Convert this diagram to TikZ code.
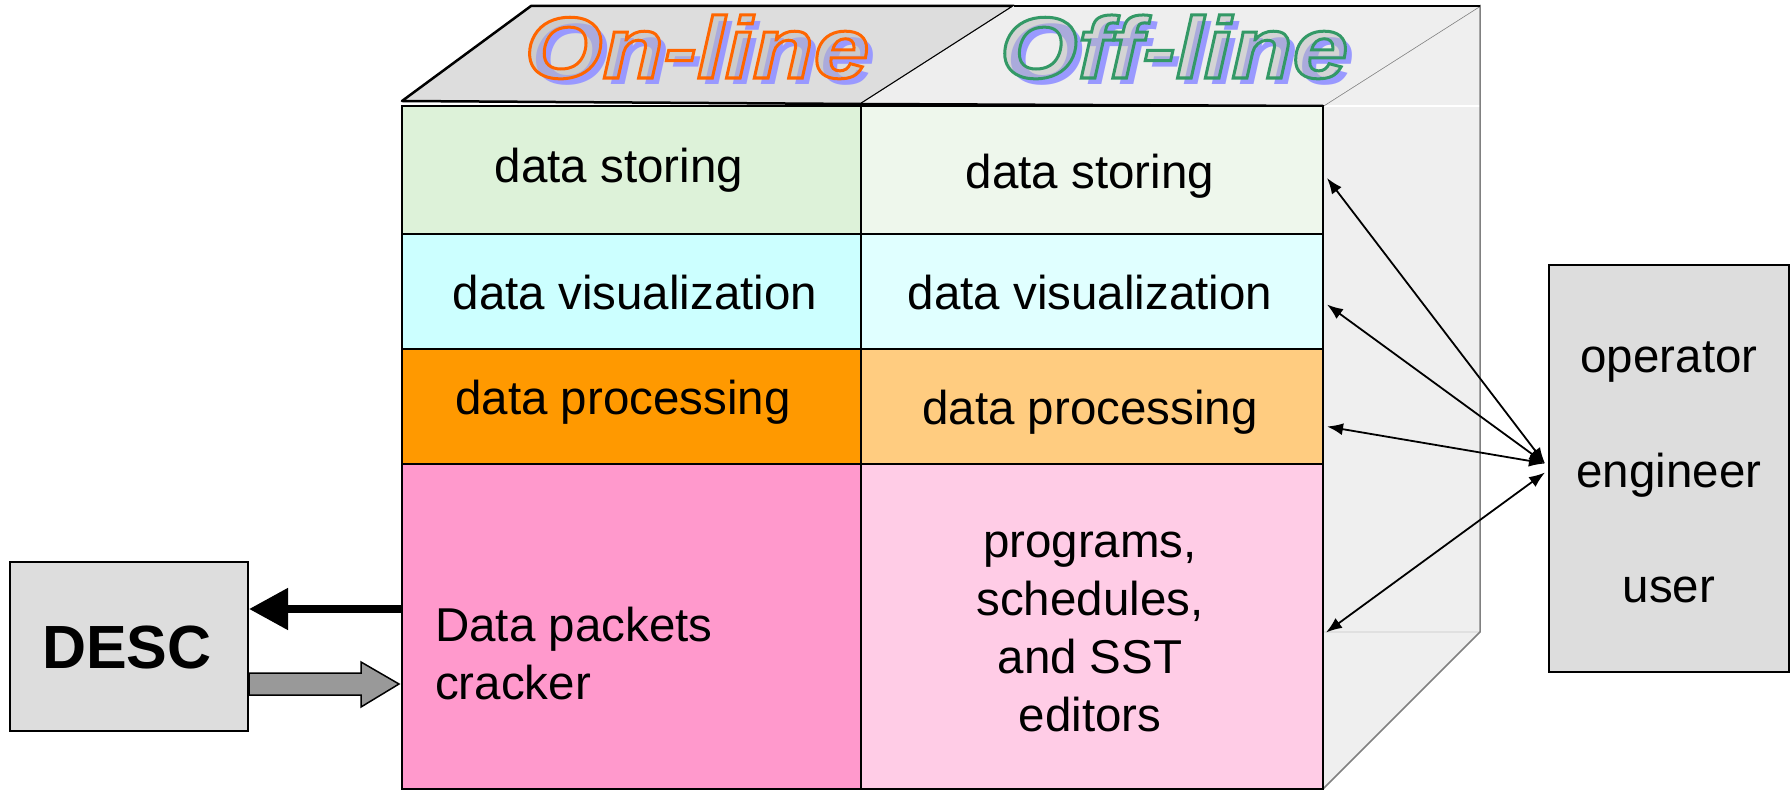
\documentclass[tikz,border=0pt]{standalone}
\usepackage{fontspec}
\setmainfont{Liberation Sans}
\newfontfamily\headfam[FakeStretch=1.15]{Liberation Sans}
\usetikzlibrary{arrows.meta,calc}

\definecolor{topL}{HTML}{DDDDDD}
\definecolor{topR}{HTML}{EEEEEE}
\definecolor{sideF}{HTML}{EFEFEF}
\definecolor{storeL}{HTML}{DDF2D9}
\definecolor{storeR}{HTML}{EEF7EC}
\definecolor{visL}{HTML}{CCFFFF}
\definecolor{visR}{HTML}{E0FFFF}
\definecolor{procL}{HTML}{FF9900}
\definecolor{procR}{HTML}{FFCC80}
\definecolor{packL}{HTML}{FF99CC}
\definecolor{progR}{HTML}{FFCCE6}
\definecolor{boxgray}{HTML}{DDDDDD}
\definecolor{shaftgray}{HTML}{999999}
\definecolor{titleshadow}{HTML}{9999FF}
\definecolor{titlefill}{HTML}{BBBBBB}

% outlined glyphs: PDF text render mode 1 (stroke only)
\newcommand{\outlinetext}[2]{%
  \special{pdf:literal direct 1 Tr 3 w #1 RG}#2\special{pdf:literal direct 0 Tr}}

\tikzset{
  cell/.style={draw=black, line width=2pt, inner sep=0pt},
  label/.style={font=\fontsize{47.5}{58}\selectfont, inner sep=0pt},
  sidebox/.style={draw=black, line width=2pt, fill=boxgray, inner sep=0pt},
  link/.style={line width=1.8pt, {Latex[length=16pt,width=12pt]}-{Latex[length=16pt,width=12pt]}},
  titlefont/.style={font=\headfam\fontsize{87}{87}\selectfont\bfseries\itshape, inner sep=0pt, anchor=base}
}

\begin{document}
\begin{tikzpicture}[x=1pt,y=-1pt]
\useasboundingbox (0,0) rectangle (1792,791);

% cube corners
\coordinate (fl) at (402,101);
\coordinate (fm) at (861,104);
\coordinate (fr) at (1323,106);
\coordinate (bl) at (531,6);
\coordinate (bm) at (1014,6);
\coordinate (br) at (1480,6);
\coordinate (sb) at (1480,632);
\coordinate (frb) at (1323,789);

% right side face (translucent)
\fill[sideF] (fr) -- (br) -- (sb) -- (frb) -- cycle;
\draw[white, line width=2pt] (fr) -- (fr -| br);
\draw[black!12, line width=2pt] (frb |- sb) -- (sb);
\draw[black!50, line width=1.5pt] (fr) -- (br) -- (sb) -- (frb);

% top face
\filldraw[fill=topL, draw=black, line width=2.5pt, line join=round] (fl) -- (bl) -- (bm) -- (fm) -- cycle;
\fill[topR] (fm) -- (bm) -- (br) -- (fr) -- cycle;
\draw[black, line width=2.5pt, line join=round] (bm) -- (br);
\draw[black, line width=2.5pt] (fm) -- (fr);

% front cells: on-line column
\node[cell, fill=storeL, minimum width=459, minimum height=128] (ds1) at (631.5,170) {};
\node[cell, fill=visL,   minimum width=459, minimum height=115] (dv1) at (631.5,291.5) {};
\node[cell, fill=procL,  minimum width=459, minimum height=115] (dp1) at (631.5,406.5) {};
\node[cell, fill=packL,  minimum width=459, minimum height=325] (pk1) at (631.5,626.5) {};
% front cells: off-line column
\node[cell, fill=storeR, minimum width=462, minimum height=128] (ds2) at (1092,170) {};
\node[cell, fill=visR,   minimum width=462, minimum height=115] (dv2) at (1092,291.5) {};
\node[cell, fill=procR,  minimum width=462, minimum height=115] (dp2) at (1092,406.5) {};
\node[cell, fill=progR,  minimum width=462, minimum height=325] (pr2) at (1092,626.5) {};

% cell texts
\node[label, anchor=base] (t1) at (619,183) {data storing};
\node[label, anchor=base] (t2) at (635,310) {data visualization};
\node[label, anchor=base] (t3) at (623,415) {data processing};
\node[label, anchor=base west, align=left] (t4) at (435,699) {Data packets\\cracker};
\node[label, anchor=base] (t5) at (1090,189) {data storing};
\node[label, anchor=base] (t6) at (1090,310) {data visualization};
\node[label, anchor=base] (t7) at (1090,425) {data processing};
\node[label, anchor=base, align=center] (t8) at (1090,731) {programs,\\schedules,\\and SST\\editors};

% side boxes
\node[sidebox, minimum width=238, minimum height=169] (desc) at (129,646.5) {};
\node[font=\fontsize{61}{61}\selectfont\bfseries, inner sep=0pt, anchor=base] (desct) at (127,668) {DESC};
\node[sidebox, minimum width=240, minimum height=407] (op) at (1669,468.5) {};
\node[label, anchor=base, align=center, font=\fontsize{47.5}{115}\selectfont] (opt) at (1669,602) {operator\\engineer\\user};

% DESC connectors
\draw[line width=8pt, -{Triangle[length=39pt,width=40pt]}] ($(pk1.west)+(0,-17.5)$) -- ($(desc.east)+(0,-37.5)$);
\coordinate (g0) at ($(desc.east)+(0,37.5)$);
\coordinate (g1) at ($(pk1.west)+(-2,57.5)$);
\filldraw[fill=shaftgray, draw=black, line width=1.5pt, line join=miter]
  ($(g0)+(0,-11)$) -- ($(g1)+(-38,-11)$) -- ($(g1)+(-38,-22)$) -- (g1)
  -- ($(g1)+(-38,23)$) -- ($(g1)+(-38,11)$) -- ($(g0)+(0,11)$) -- cycle;

% user connectors
\coordinate (hubA) at ($(op.west)+(-3,-5)$);
\coordinate (hubB) at ($(op.west)+(-3,4)$);
\draw[link] (hubA) -- ($(ds2.east)+(3,8)$);
\draw[link] (hubA) -- ($(dv2.east)+(3,13)$);
\draw[link] (hubA) -- ($(dp2.east)+(3,20)$);
\draw[link] (hubB) -- ($(pr2.east)+(2,6)$);

% headings on the top face: shadow, translucent fill, outline
\node[titlefont, text=titleshadow] (onshadow) at (704,85) {On-line};
\node[titlefont, text=titlefill, text opacity=0.5] (ontitle) at (697,78) {On-line};
\node[titlefont] (onedge) at (697,78) {\outlinetext{1 0.4 0}{On-line}};

\node[titlefont, text=titleshadow] (offshadow) at (1181,85) {Off-line};
\node[titlefont, text=titlefill, text opacity=0.5] (offtitle) at (1174,78) {Off-line};
\node[titlefont] (offedge) at (1174,78) {\outlinetext{0.2 0.6 0.4}{Off-line}};
\end{tikzpicture}
\end{document}
